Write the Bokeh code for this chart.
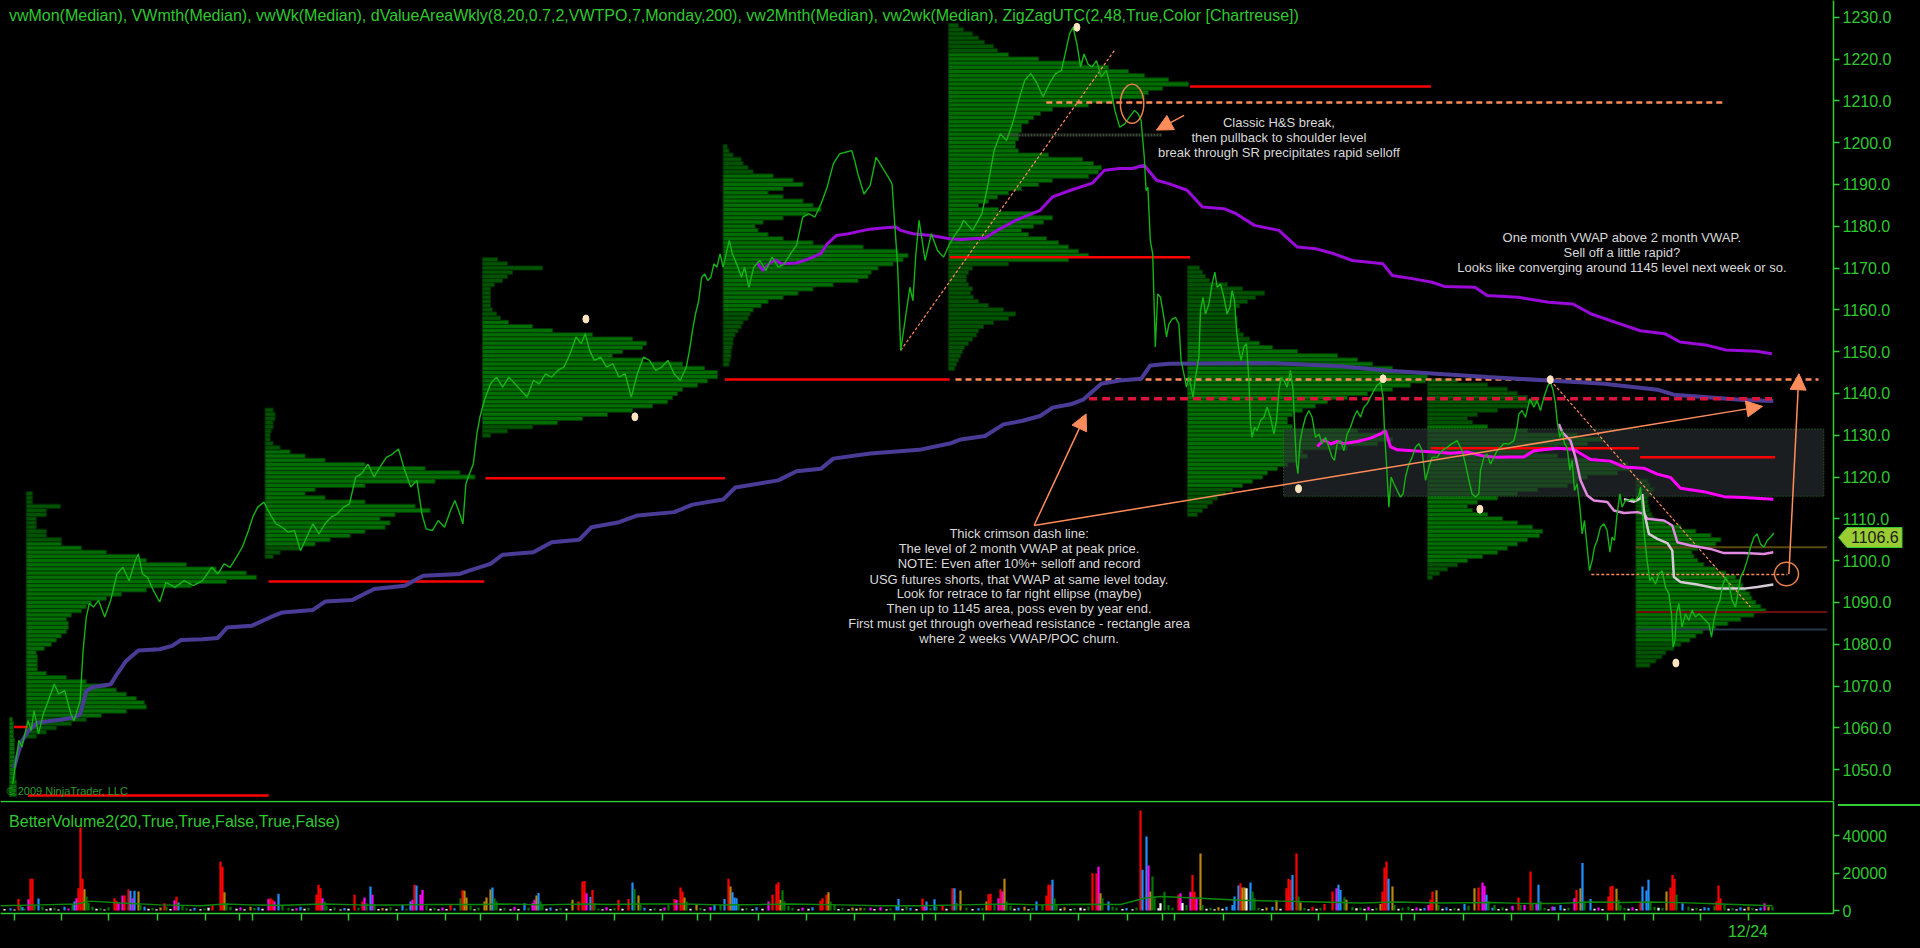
from bokeh.plotting import figure
from bokeh.models import (Range1d, FixedTicker, NumeralTickFormatter, CustomJSTickFormatter,
                          Arrow, NormalHead, Span, Div)
from bokeh.layouts import column
from bokeh.embed import file_html
from bokeh.resources import INLINE
from bokeh.core.properties import value

# ---------------- data (x = hourly bar index, y = price) ----------------
price_path = [
    (6.1,1046.6),(7.7,1052.2),(9.2,1057.0),(10.7,1055.4),(12.2,1058.6),(13.8,1061.7),(15.3,1059.4),(16.8,1064.1),
    (19.0,1058.6),(21.4,1063.3),(23.9,1066.5),(26.9,1070.5),(29.1,1068.1),(32.1,1068.9),(35.2,1063.3),(36.7,1061.7),
    (38.3,1064.1),(39.8,1066.5),(41.3,1078.5),(42.9,1086.5),(44.4,1089.7),(46.5,1088.9),(49.0,1090.5),(52.1,1086.5),
    (55.1,1090.5),(58.2,1096.8),(61.2,1098.4),(64.3,1095.2),(67.4,1100.0),(68.9,1101.6),(71.0,1096.8),(73.5,1096.0),
    (76.5,1092.8),(79.6,1090.1),(82.7,1094.8),(87.3,1093.6),(91.9,1095.2),(96.4,1094.0),(101.0,1095.2),(105.6,1098.4),
    (108.7,1096.8),(111.8,1099.2),(114.8,1098.4),(117.9,1100.8),(120.9,1103.2),(124.0,1107.2),(126.1,1110.4),
    (128.6,1112.8),(131.7,1114.0),(134.7,1111.2),(137.8,1108.8),(140.8,1108.0),(143.9,1106.8),(147.0,1107.2),
    (150.0,1102.4),(153.1,1105.6),(156.2,1108.8),(159.2,1106.4),(162.3,1108.8),(165.3,1110.4),(168.4,1111.2),
    (171.5,1112.8),(174.5,1113.6),(177.6,1120.0),(180.6,1120.8),(183.7,1123.1),(186.8,1120.0),(189.8,1122.4),
    (192.9,1124.7),(196.0,1125.5),(199.0,1126.7),(202.1,1121.6),(205.1,1117.6),(208.2,1119.2),(210.7,1111.2),
    (212.8,1107.6),(215.9,1107.2),(218.9,1109.6),(222.0,1108.0),(225.0,1112.0),(227.2,1114.4),(229.6,1111.2),
    (231.2,1108.8),(232.7,1118.4),(234.2,1120.4),(236.4,1123.1),(238.2,1130.3),(239.7,1134.3),(241.9,1138.3),
    (245.0,1142.3),(248.0,1143.9),(251.1,1141.5),(254.1,1143.9),(257.2,1142.3),(260.3,1140.7),(263.3,1139.1),
    (266.4,1143.1),(269.4,1142.3),(272.5,1144.7),(275.6,1143.9),(278.6,1145.5),(281.7,1146.3),(284.8,1149.5),
    (287.8,1153.5),(290.3,1151.9),(292.4,1154.3),(294.5,1150.3),(297.0,1147.9),(300.1,1148.7),(303.1,1146.3),
    (306.2,1147.1),(309.2,1143.9),(312.3,1144.7),(315.4,1139.1),(318.4,1144.7),(321.5,1148.7),(324.5,1147.9),
    (327.6,1145.5),(330.7,1146.3),(333.7,1147.9),(336.8,1144.7),(339.9,1143.1),(342.9,1146.3),(344.5,1150.3),
    (346.0,1155.1),(347.5,1159.0),(349.1,1162.2),(350.6,1167.8),(352.1,1168.6),(353.6,1167.0),(355.2,1167.8),
    (356.7,1171.0),(358.2,1170.2),(359.8,1173.4),(361.3,1170.2),(364.4,1176.6),(365.9,1173.4),(367.4,1171.8),
    (370.5,1167.8),(372.0,1170.2),(374.2,1165.4),(376.6,1170.2),(379.7,1171.8),(382.7,1169.4),(385.8,1172.6),
    (388.9,1170.2),(391.9,1171.0),(395.0,1173.4),(398.0,1175.4),(401.1,1182.2),(404.2,1183.0),(407.2,1182.2),
    (410.3,1185.4),(413.3,1189.3),(416.4,1194.9),(419.5,1197.3),(422.5,1197.7),(425.6,1198.1),(427.1,1195.7),
    (428.7,1192.5),(431.7,1187.7),(434.8,1189.7),(437.8,1196.5),(440.9,1194.1),(444.0,1191.7),(445.8,1190.1),
    (447.0,1181.4),(448.6,1170.2),(450.1,1150.3),(452.5,1158.2),(454.7,1165.4),(456.2,1162.2),(457.7,1173.4),
    (459.3,1181.4),(460.8,1176.6),(462.3,1171.8),(465.4,1178.2),(468.5,1174.2),(471.5,1172.6),(474.6,1175.8),
    (477.6,1178.2),(480.1,1179.8),(481.5,1181.4),(486.1,1179.0),(490.7,1183.0),(493.8,1190.1),(496.8,1198.1),
    (499.9,1202.1),(503.0,1200.5),(506.0,1204.5),(509.1,1210.1),(512.1,1214.9),(515.2,1216.5),(518.3,1214.1),
    (521.3,1210.9),(524.4,1214.1),(527.5,1216.5),(530.5,1217.3),(532.7,1222.0),(534.5,1226.0),(536.3,1227.6),
    (538.2,1223.6),(540.0,1218.1),(541.8,1221.2),(543.7,1218.8),(545.8,1218.1),(548.0,1219.6),(550.4,1215.7),
    (552.9,1217.3),(555.0,1213.3),(557.2,1207.7),(559.6,1203.7),(562.1,1204.5),(564.5,1206.1),(567.0,1207.7),
    (568.8,1206.9),(570.3,1205.3),(571.9,1196.5),(572.8,1188.5),(573.7,1189.3),(574.9,1176.6),(576.1,1173.4),
    (577.4,1151.1),(578.6,1163.8),(580.0,1163.0),(581.7,1158.2),(583.0,1153.5),(584.2,1156.6),(585.8,1157.8),
    (587.5,1158.2),(589.2,1156.6),(590.3,1147.9),(591.7,1144.7),(593.0,1141.5),(594.2,1143.9),(595.3,1141.5),
    (596.3,1139.1),(597.5,1143.9),(599.2,1148.7),(600.0,1159.8),(601.3,1163.0),(602.5,1159.0),(604.2,1161.4),
    (605.8,1166.2),(607.2,1169.0),(608.3,1165.4),(610.0,1166.2),(611.7,1163.0),(613.3,1159.0),(614.7,1160.6),
    (615.8,1164.6),(617.0,1162.2),(618.0,1155.1),(619.2,1150.3),(620.3,1147.9),(621.7,1151.1),(623.0,1151.9),
    (624.2,1143.1),(625.0,1132.7),(625.8,1129.5),(627.0,1131.9),(628.3,1131.1),(630.0,1133.5),(631.7,1134.3),
    (633.3,1136.7),(635.0,1134.3),(636.7,1130.3),(638.0,1133.5),(639.2,1140.7),(640.3,1143.9),(641.7,1143.1),
    (643.3,1141.5),(645.0,1145.5),(646.3,1140.7),(647.0,1132.7),(648.0,1123.1),(648.7,1120.8),(649.7,1128.0),
    (650.8,1131.1),(652.5,1134.3),(654.2,1135.9),(655.8,1134.3),(657.5,1129.5),(659.2,1130.3),(660.8,1128.0),
    (662.5,1129.5),(664.2,1127.1),(665.8,1124.7),(667.0,1124.0),(668.3,1128.0),(670.0,1128.7),(671.7,1126.3),
    (673.3,1130.3),(675.0,1131.9),(676.7,1134.3),(678.3,1135.9),(680.0,1134.3),(681.7,1136.7),(683.3,1137.5),
    (685.0,1139.1),(686.7,1140.7),(688.3,1141.9),(690.0,1142.7),(691.3,1139.1),(692.0,1131.1),(693.0,1123.1),
    (694.2,1112.8),(695.3,1120.0),(696.7,1118.4),(698.3,1116.8),(700.0,1115.2),(701.3,1116.0),(702.5,1120.0),
    (704.2,1123.1),(705.8,1124.7),(707.5,1127.1),(709.2,1128.0),(710.8,1126.3),(712.5,1119.2),(714.2,1122.4),
    (715.8,1124.7),(718.3,1124.7),(720.8,1126.3),(723.3,1127.1),(725.8,1128.0),(728.3,1128.7),(730.8,1126.3),
    (732.5,1123.1),(734.2,1119.2),(735.8,1116.0),(737.5,1115.2),(739.2,1116.0),(740.0,1121.6),(741.7,1124.7),
    (743.3,1125.5),(745.0,1123.1),(746.7,1124.7),(748.3,1126.3),(750.0,1127.1),(751.7,1128.0),(754.2,1127.9),
    (756.7,1128.7),(758.3,1131.9),(759.2,1135.1),(760.8,1135.9),(762.5,1134.3),(764.7,1138.7),(766.7,1136.7),
    (768.3,1138.3),(770.0,1135.9),(771.7,1139.1),(773.7,1141.9),(775.0,1142.7),(776.3,1140.7),(777.5,1137.5),
    (778.3,1133.5),(779.7,1129.5),(780.8,1131.1),(782.0,1128.0),(783.3,1127.1),(784.7,1121.6),(785.8,1124.0),
    (787.0,1116.8),(788.3,1118.4),(789.7,1112.8),(790.8,1106.4),(792.0,1109.6),(793.3,1103.2),(794.5,1097.6),
    (795.8,1100.0),(797.0,1103.2),(798.3,1104.8),(800.0,1108.0),(801.7,1108.8),(803.3,1107.2),(804.7,1102.0),
    (805.8,1105.6),(807.0,1104.8),(808.3,1111.2),(809.7,1116.0),(810.8,1112.8),(812.5,1114.4),(814.2,1114.4),
    (815.8,1114.8),(817.5,1114.4),(819.2,1115.6),(820.0,1117.6),(820.8,1112.8),(822.0,1105.6),(823.3,1100.0),
    (824.7,1095.2),(825.8,1096.0),(827.5,1094.4),(829.2,1096.8),(830.8,1097.6),(832.5,1093.6),(834.2,1092.1),
    (835.5,1087.3),(836.3,1079.3),(837.2,1080.9),(838.0,1087.3),(839.2,1089.7),(840.8,1084.1),(842.5,1087.3),
    (844.2,1085.7),(845.8,1088.1),(847.5,1086.5),(849.2,1087.3),(850.8,1086.5),(852.5,1085.7),(854.2,1084.9),
    (855.5,1081.7),(856.7,1085.7),(858.3,1088.9),(859.7,1090.5),(860.8,1093.6),(862.5,1096.0),(864.2,1094.4),
    (865.8,1090.5),(867.5,1088.9),(868.7,1092.1),(870.0,1096.0),(871.7,1097.6),(873.3,1100.0),(875.0,1103.2),
    (876.7,1105.6),(878.3,1106.4),(880.0,1104.0),(881.7,1103.2),(883.3,1104.8),(885.0,1105.6),(886.7,1106.6),
]

vw_month = [(378.2,1171.4),(381.2,1169.4),(384.3,1171.0),(387.3,1172.0),(390.4,1171.0),(398.0,1171.2),(404.2,1172.2),
    (410.3,1173.5),(413.4,1175.8),(418.0,1177.8),(424.0,1178.2),(428.7,1178.7),(434.8,1179.3),(440.9,1179.6),
    (447.7,1179.8),(450.1,1179.0),(456.2,1178.2),(465.4,1177.8),(474.6,1177.0),(480.1,1176.8),(492.3,1177.2),
    (498.4,1179.0),(507.6,1181.4),(519.8,1183.8),(526.0,1187.0),(535.1,1188.6),(545.9,1190.3),(552.0,1193.4),
    (559.6,1193.8),(565.8,1193.8),(571.9,1194.6),(578.0,1191.0),(584.1,1190.2),(593.3,1188.6),(601.0,1184.6),
    (611.7,1184.2),(617.8,1183.0),(627.0,1180.2),(639.2,1179.0),(648.4,1175.0),(657.6,1174.6),(666.8,1173.4),
    (675.9,1171.8),(691.3,1171.0),(695.9,1168.2),(706.6,1167.4),(715.8,1166.6),(721.9,1165.6),(737.2,1165.4),
    (743.3,1163.4),(758.7,1163.0),(774.0,1161.8),(786.2,1161.4),(795.4,1159.0),(807.6,1157.0),(819.9,1155.0),
    (832.1,1154.3),(839.8,1152.3),(853.5,1151.5),(862.7,1150.4),(878.0,1150.1),(885.7,1149.5)]

vw_2month = [(6.8,1050.4),(8.6,1053.6),(10.7,1056.8),(13.8,1059.2),(18.4,1061.2),(24.5,1061.6),(30.6,1062.0),
    (36.8,1062.5),(39.8,1063.2),(42.9,1068.8),(46.0,1069.7),(55.1,1070.4),(58.2,1072.8),(62.8,1076.0),(68.9,1078.5),
    (79.6,1078.8),(85.8,1079.6),(90.3,1081.0),(101.0,1081.2),(108.7,1081.5),(113.3,1084.0),(125.5,1084.4),
    (134.7,1086.4),(140.9,1087.6),(156.2,1088.2),(162.3,1090.2),(176.0,1090.6),(186.8,1093.2),(202.1,1094.0),
    (211.3,1096.4),(229.7,1096.8),(234.3,1097.6),(245.0,1099.2),(251.0,1101.4),(266.4,1102.0),(275.6,1104.4),
    (289.4,1105.0),(295.5,1108.0),(309.3,1109.2),(318.5,1110.8),(336.8,1111.6),(346.0,1113.4),(361.3,1114.6),
    (367.4,1117.5),(388.9,1119.2),(398.0,1121.4),(410.3,1122.0),(416.4,1124.4),(434.8,1125.6),(459.3,1126.5),
    (474.6,1128.0),(480.1,1129.0),(492.3,1129.8),(501.5,1132.6),(510.6,1133.4),(519.8,1134.6),(526.0,1136.6),
    (535.1,1137.4),(541.3,1138.5),(550.4,1142.3),(559.6,1143.1),(570.3,1143.5),(574.9,1146.7),(584.1,1147.1),
    (633.1,1147.3),(669.9,1146.5),(694.4,1145.4),(743.3,1143.9),(774.0,1143.1),(791.7,1142.6),(801.7,1142.3),
    (828.4,1140.9),(836.7,1139.7),(858.4,1138.9),(871.7,1138.4),(886.4,1138.2)]

vw_2week = [(658.4,1127.3),(661.7,1128.9),(665.0,1127.9),(668.4,1128.5),(671.7,1128.0),(678.4,1128.5),(685.0,1129.3),
    (690.0,1130.3),(692.5,1131.1),(695.0,1127.2),(698.4,1126.5),(708.4,1126.2),(716.7,1126.0),(725.0,1125.7),
    (733.4,1126.0),(741.7,1125.0),(748.0,1124.7),(755.0,1124.8),(761.7,1124.8),(766.7,1126.3),(778.4,1126.9),
    (786.7,1126.6),(795.0,1124.2),(805.0,1123.8),(811.7,1122.4),(821.7,1122.1),(828.4,1120.7),(835.0,1119.9),
    (840.0,1117.3),(851.7,1116.5),(861.7,1115.3),(871.7,1115.1),(886.4,1114.7)]

vw_week = [(779.2,1132.7),(780.9,1130.7),(785.0,1128.7),(787.5,1124.7),(790.0,1119.2),(793.4,1115.6),(796.7,1114.4),
    (803.4,1114.0),(806.7,1112.0),(811.7,1111.4),(818.4,1111.6),(821.7,1111.2),(823.4,1110.0),(831.7,1109.6),
    (835.9,1108.4),(838.4,1104.4),(845.0,1103.6),(855.0,1102.8),(861.7,1101.8),(871.7,1101.8),(881.7,1101.6),
    (886.4,1102.0)]

vw_mon = [(811.7,1114.7),(816.7,1114.1),(820.0,1114.9),(820.9,1115.9),(821.7,1111.9),(824.2,1106.4),(828.4,1105.2),
    (833.4,1104.2),(835.9,1102.4),(836.7,1096.1),(840.0,1094.9),(848.4,1094.3),(858.4,1093.3),(871.7,1093.3),
    (878.4,1093.7),(886.4,1094.3)]

zigzag_pts = [(292.7,1157.8),(317.2,1134.4),(538.2,1227.6),(649.0,1117.2),(691.3,1143.5),(739.7,1112.3),
    (774.9,1143.3),(837.7,1075.5)]

# weekly volume profiles: start bar, top price row, value area, row lengths (px-scale volume) top -> down
prof_start = [4.5, 12.9, 132.3, 241.0, 361.3, 474.0, 593.5, 713.5, 817.7]
prof_top = [1062, 1116, 1136, 1172, 1199, 1228, 1170, 1143, 1119]
prof_va = [(1044,1062),(1063,1104),(1104,1126),(1133,1157),(1160,1192),(1172,1221),(1118,1152),(1100,1132),(1081,1109)]
prof_rows = [
    [3,4,4,4,4,5,5,5,5,5,6,6,6,6,6,7,7,7,7],
    [6,6,6,34,20,20,10,10,10,20,20,35,35,55,80,110,120,160,190,220,230,200,165,120,95,80,65,60,55,45,
     40,42,42,40,35,30,25,18,10,11,11,11,11,20,40,60,80,90,100,110,118,120,100,75,60,45,30,20,10],
    [8,10,10,8,8,6,5,5,8,15,25,40,60,100,160,195,210,170,100,50,40,60,100,150,165,130,115,125,120,100,
     85,65,50,35,15,8],
    [15,25,60,30,25,20,12,8,8,8,8,8,10,14,18,26,50,70,110,150,164,160,140,130,160,200,222,235,235,225,
     215,200,195,190,185,170,150,125,100,75,50,25,8],
    [4,6,10,18,20,25,30,50,70,80,60,45,60,80,90,98,85,60,40,32,35,45,60,90,140,175,185,180,170,155,
     148,145,135,110,90,75,60,45,38,30,27,25,20,18,15,12,10,10,9,8,8,7,6],
    [10,15,24,30,36,45,49,60,90,134,160,180,196,220,240,214,200,196,165,140,104,92,85,80,73,73,70,70,67,67,
     70,100,134,145,153,150,140,104,90,73,60,49,40,30,50,85,104,95,85,73,80,98,110,120,130,140,120,60,24,20,
     18,18,20,24,22,25,30,40,55,67,60,45,35,30,28,24,20,16,14,12,10,8,6],
    [12,15,18,22,40,55,77,68,60,52,48,48,50,50,50,52,56,62,72,85,110,150,170,185,205,220,240,238,223,205,
     180,160,140,128,115,105,100,100,105,170,200,205,190,160,115,120,110,100,90,80,75,65,55,45,38,30,25,20,15,10],
    [30,60,80,90,100,110,100,70,50,40,45,60,100,150,175,160,130,110,130,170,200,205,190,160,150,140,110,90,70,50,
     40,45,60,75,90,105,115,112,100,90,80,70,55,40,30,20,12,5],
    [12,14,18,14,12,12,13,14,16,18,30,45,60,75,85,80,62,56,58,62,68,80,90,100,105,107,110,114,116,120,
     125,130,118,105,92,80,67,60,54,45,38,30,26,20,14],
]
PROFILE_SCALE = 0.5  # profile volume units -> bars

# prior-week POC levels (start bar, end bar, price)
poc_lines = [(6.8,13.8,1060.2),(13.8,134.1,1043.8),(134.1,241.9,1095.0),(242.5,362.2,1119.7),(362.2,474.6,1143.3),
    (474.6,594.8,1172.6),(594.8,715.2,1213.4),(715.2,819.3,1126.9),(819.8,887.3,1124.7)]

# volume (bar, volume, colour code)
vol_bars = [
    (9,6200,'r'),(10,2600,'g'),(11,1800,'b'),(14,6000,'m'),(15,16900,'r'),(16,16900,'r'),(17,3000,'g'),(19,6400,'b'),
    (21,2000,'g'),(25,1200,'w'),(32,2000,'b'),(36,3000,'g'),(37,4800,'b'),(38,6600,'m'),(39,11900,'r'),(40,44300,'r'),
    (41,16900,'r'),(42,11400,'o'),(43,7500,'g'),(44,4000,'g'),(46,2000,'g'),(57,6600,'r'),(58,5200,'r'),(59,3900,'m'),
    (61,8000,'m'),(62,8000,'r'),(64,11200,'r'),(65,10500,'b'),(66,6600,'m'),(67,10500,'b'),(69,10100,'o'),(70,3000,'g'),
    (72,2000,'b'),(82,3900,'r'),(83,2000,'g'),(87,5500,'m'),(88,7300,'r'),(89,4300,'b'),(91,2500,'g'),(104,1500,'w'),
    (106,2700,'r'),(110,26100,'r'),(111,23300,'r'),(112,9800,'o'),(113,3900,'g'),(115,2000,'g'),(125,2000,'o'),
    (134,6200,'m'),(135,6600,'r'),(136,5700,'r'),(137,4800,'m'),(139,8900,'b'),(141,3000,'g'),(150,2000,'b'),
    (158,8400,'r'),(159,13700,'r'),(160,11900,'r'),(161,6600,'m'),(162,4800,'g'),(163,2500,'g'),(177,8400,'r'),
    (181,4800,'r'),(182,6900,'m'),(183,3900,'g'),(185,12800,'b'),(186,8400,'m'),(187,3500,'g'),(201,3000,'b'),
    (205,4800,'b'),(206,5700,'m'),(207,13700,'r'),(208,13300,'b'),(210,8400,'m'),(211,11000,'m'),(213,2500,'g'),
    (225,3000,'r'),(230,6600,'g'),(231,10800,'r'),(232,10500,'o'),(233,6900,'o'),(235,2500,'g'),(242,4800,'o'),
    (243,6900,'o'),(245,11200,'o'),(246,12300,'b'),(247,6600,'g'),(248,4800,'g'),(262,3900,'b'),(266,3900,'m'),
    (267,5700,'m'),(268,8000,'o'),(269,9400,'b'),(270,4800,'g'),(271,3000,'g'),(286,5700,'o'),(289,4800,'r'),
    (291,15500,'r'),(292,15800,'r'),(293,9200,'m'),(295,7300,'b'),(296,11000,'r'),(297,3900,'g'),(309,5700,'r'),
    (314,6200,'r'),(316,14900,'b'),(317,11500,'g'),(319,8000,'o'),(320,3000,'g'),(334,3000,'g'),(337,6200,'r'),
    (338,5700,'m'),(340,12300,'r'),(341,10100,'r'),(342,6900,'o'),(343,4800,'g'),(348,3500,'o'),(357,3000,'b'),
    (360,3000,'g'),(362,6200,'b'),(364,16900,'r'),(365,12800,'o'),(366,9800,'b'),(367,6900,'b'),(368,6600,'b'),
    (369,3000,'g'),(384,4800,'m'),(386,8400,'r'),(388,14000,'r'),(389,15100,'r'),(390,5700,'o'),(391,10800,'g'),
    (392,4800,'g'),(394,2500,'g'),(410,5200,'r'),(411,6600,'r'),(413,8400,'r'),(414,9800,'o'),(415,4800,'g'),
    (417,3000,'g'),(430,1500,'o'),(435,1500,'m'),(448,3000,'b'),(449,6200,'b'),(453,2000,'g'),(461,6400,'r'),
    (462,3000,'m'),(463,4800,'b'),(467,6000,'b'),(468,2000,'g'),(471,3000,'r'),(476,11900,'r'),(477,11900,'b'),
    (478,4000,'g'),(480,10700,'o'),(489,1200,'b'),(493,4800,'o'),(494,8700,'r'),(495,9000,'r'),(497,3000,'g'),
    (499,6600,'m'),(500,11400,'r'),(501,10100,'m'),(502,16900,'o'),(503,4800,'g'),(505,2500,'g'),(512,2000,'o'),
    (518,4800,'b'),(521,3000,'g'),(523,8000,'r'),(524,13700,'r'),(525,13700,'r'),(526,16400,'b'),(527,6600,'g'),
    (528,3000,'g'),(540,1500,'w'),(544,2000,'g'),(546,19900,'r'),(548,19900,'r'),(549,23300,'m'),(550,9200,'o'),
    (551,6600,'g'),(554,4800,'b'),(556,2000,'g'),(570,53300,'r'),(571,21700,'b'),(573,39500,'b'),(574,24000,'m'),
    (575,10100,'o'),(576,18100,'g'),(577,6600,'g'),(580,3900,'w'),(582,10000,'g'),(584,3000,'g'),(589,8400,'r'),
    (590,9200,'m'),(591,4000,'w'),(593,3000,'g'),(595,10000,'m'),(596,19000,'r'),(597,10000,'r'),(598,6600,'m'),
    (600,30400,'o'),(601,3000,'g'),(613,2000,'b'),(616,3000,'b'),(617,7500,'b'),(619,13300,'b'),(620,14600,'r'),
    (621,12300,'o'),(622,12300,'o'),(623,11900,'w'),(625,14900,'b'),(626,10100,'g'),(627,6600,'g'),(636,2000,'b'),
    (638,5500,'o'),(643,11900,'r'),(644,16900,'r'),(645,16400,'r'),(646,19000,'b'),(648,30400,'r'),(649,7500,'g'),
    (650,4300,'o'),(662,3500,'r'),(666,10100,'r'),(668,11900,'m'),(669,13700,'b'),(670,11000,'b'),(672,6900,'g'),
    (673,5700,'o'),(676,2000,'g'),(690,3500,'o'),(691,10100,'r'),(692,22900,'r'),(693,26100,'r'),(694,16900,'b'),
    (696,12800,'o'),(697,3000,'g'),(704,2000,'g'),(714,3000,'m'),(715,5900,'r'),(716,10100,'r'),(718,10800,'o'),
    (719,3000,'g'),(732,3500,'b'),(734,2500,'g'),(737,11900,'o'),(739,12300,'r'),(741,14900,'m'),(742,13100,'m'),
    (743,8400,'b'),(744,5000,'g'),(747,3000,'g'),(756,2500,'m'),(759,6900,'r'),(760,3000,'g'),(762,3000,'m'),
    (765,20800,'r'),(766,3900,'g'),(768,3900,'m'),(769,13700,'b'),(770,5000,'g'),(777,2000,'b'),(780,3000,'b'),
    (787,6600,'m'),(788,11000,'r'),(790,11900,'o'),(791,25400,'b'),(792,5000,'g'),(795,6200,'b'),(804,7500,'r'),
    (805,12800,'r'),(806,13200,'r'),(808,11600,'o'),(809,5700,'g'),(810,3000,'g'),(820,4800,'r'),(821,12800,'b'),
    (823,10700,'b'),(824,16400,'b'),(825,4000,'g'),(827,2000,'g'),(833,10100,'o'),(835,12300,'r'),(836,19000,'r'),
    (837,16900,'r'),(838,8400,'g'),(841,3900,'b'),(844,2000,'g'),(854,1500,'b'),(857,2500,'g'),(858,4800,'r'),
    (859,13300,'r'),(860,6600,'r'),(862,3000,'g'),(874,2000,'o'),(882,3900,'m'),(884,2000,'o'),(886,2000,'g'),
]
vol_small = [
    (2,800,'w'),(5,1200,'b'),(7,600,'w'),(12,900,'g'),(23,700,'w'),(27,1500,'g'),(29,500,'w'),(34,1100,'m'),
    (48,900,'w'),(50,1400,'g'),(52,600,'w'),(54,1800,'g'),(74,900,'w'),(76,1300,'g'),(78,700,'w'),(80,1600,'o'),
    (85,800,'w'),(93,1200,'g'),(95,600,'w'),(97,1500,'b'),(100,700,'w'),(102,1100,'g'),(118,900,'w'),(120,1600,'m'),
    (122,700,'w'),(127,1300,'g'),(129,1800,'b'),(131,900,'w'),(144,1400,'g'),(146,700,'w'),(148,1200,'m'),
    (152,900,'w'),(154,1500,'g'),(165,800,'w'),(167,1600,'g'),(170,600,'w'),(172,1300,'b'),(174,900,'w'),
    (179,1500,'g'),(189,800,'w'),(191,1400,'o'),(193,1000,'w'),(195,1800,'g'),(198,700,'w'),(203,1100,'g'),
    (215,900,'w'),(217,1300,'g'),(219,700,'w'),(221,1600,'m'),(223,800,'w'),(227,1200,'b'),(237,700,'w'),
    (239,1500,'g'),(250,900,'w'),(252,1300,'g'),(255,700,'w'),(257,1900,'m'),(259,800,'w'),(264,1500,'g'),
    (273,900,'w'),(275,1600,'b'),(278,700,'w'),(280,1300,'g'),(283,900,'w'),(299,1100,'g'),(301,700,'w'),
    (303,1800,'m'),(305,800,'w'),(307,1300,'g'),(311,900,'w'),(322,1500,'b'),(325,800,'w'),(327,1200,'g'),
    (330,700,'w'),(332,1600,'m'),(345,900,'w'),(350,1400,'g'),(352,700,'w'),(355,1900,'m'),(371,900,'w'),
    (373,1400,'g'),(376,700,'w'),(378,1700,'b'),(381,900,'w'),(396,1300,'g'),(399,700,'w'),(401,1500,'m'),
    (404,900,'w'),(406,1800,'b'),(419,800,'w'),(421,1400,'g'),(424,700,'w'),(426,1600,'o'),(428,900,'w'),
    (432,1300,'g'),(437,800,'w'),(440,1800,'m'),(443,700,'w'),(445,1200,'g'),(451,900,'w'),(455,1400,'b'),
    (458,800,'w'),(465,1300,'g'),(473,900,'w'),(483,1500,'g'),(486,800,'w'),(491,1300,'g'),(507,900,'w'),
    (509,1500,'b'),(514,700,'w'),(516,1300,'g'),(530,900,'w'),(532,1800,'o'),(535,800,'w'),(537,1400,'g'),
    (542,900,'w'),(558,1500,'g'),(561,800,'w'),(563,1300,'b'),(566,700,'w'),(568,1600,'g'),(579,1200,'w'),
    (586,1500,'g'),(603,900,'w'),(605,1400,'g'),(607,700,'w'),(609,1800,'o'),(611,900,'w'),(629,1400,'g'),
    (631,800,'w'),(633,1600,'o'),(640,900,'w'),(652,1300,'g'),(654,700,'w'),(656,2000,'r'),(658,900,'w'),
    (660,1400,'g'),(678,1200,'w'),(680,1600,'g'),(682,900,'w'),(684,1900,'m'),(686,800,'w'),(688,1300,'g'),
    (699,900,'w'),(701,1500,'g'),(706,800,'w'),(708,1600,'m'),(710,900,'w'),(712,1300,'b'),(721,900,'w'),
    (723,1800,'b'),(725,800,'w'),(727,1400,'g'),(729,900,'w'),(746,1500,'b'),(749,800,'w'),(751,1800,'g'),
    (753,900,'w'),(772,1300,'g'),(774,700,'w'),(776,2200,'m'),(782,900,'w'),(784,1500,'g'),(797,900,'w'),
    (799,1600,'m'),(801,800,'w'),(812,1300,'g'),(814,900,'w'),(816,1800,'m'),(818,800,'w'),(829,1500,'w'),
    (831,1300,'g'),(846,900,'w'),(848,1400,'g'),(850,700,'w'),(852,1800,'b'),(864,900,'w'),(866,1300,'g'),
    (868,700,'w'),(870,1800,'b'),(872,900,'w'),(876,1300,'g'),(878,800,'w'),(880,1600,'b'),
]
vol_ma = [(0,2500),(20,3000),(38,3500),(45,5000),(60,4000),(80,3000),(100,2500),(112,3500),(125,3000),(140,2800),
    (162,3500),(180,3000),(200,3000),(215,3200),(240,3200),(250,3500),(270,3000),(292,3500),(305,3200),(320,3500),
    (342,3500),(360,3000),(380,3200),(395,3500),(420,3000),(440,2500),(460,2500),(480,3000),(503,3500),(520,3000),
    (540,3300),(560,3200),(572,6500),(580,7500),(600,6500),(620,5500),(640,5000),(660,4500),(680,4000),(698,4500),
    (720,4000),(745,4300),(760,3800),(780,3800),(795,4500),(812,4300),(825,4500),(840,4200),(860,3500),(886,2500)]

day_ticks = [6.75,30.3,54.2,78.4,102.25,119.7,126.15,150.35,174.2,198.4,222.3,239.75,258.7,282.9,306.8,331.0,348.5,
    354.9,378.75,402.95,426.8,447.0,460.8,467.5,491.35,515.2,539.1,563.3,580.75,587.15,611.35,635.25,659.1,683.0,
    700.45,707.2,731.35,755.25,779.15,803.3,811.9,826.3,849.85,873.75]
price_ticks = list(range(1050, 1231, 10))
vol_ticks = [0, 20000, 40000]
last_price = 1106.6

# ---------------- styling ----------------
FONT = "Liberation Sans"
AX = "#32cd32"
LBL = "#30c830"
ORANGE = "#ff8c5a"
COLMAP = {'r': "#ff0000", 'b': "#1e90ff", 'm': "#ff00ff", 'o': "#b8860b", 'g': "#007800", 'w': "#ffffff"}
Y0, Y1 = 1042.61, 1234.0
FRAME_H = 800
FRAME_W = 1833


def style_axis(ax):
    ax.axis_line_color = AX
    ax.axis_line_width = 1.5
    ax.major_tick_line_color = AX
    ax.major_tick_line_width = 1.5
    ax.major_tick_out = 6
    ax.major_tick_in = 0
    ax.minor_tick_line_color = None
    ax.major_label_text_color = LBL
    ax.major_label_text_font = FONT
    ax.major_label_text_font_size = "16px"
    ax.major_label_standoff = 3


p = figure(frame_width=FRAME_W, frame_height=FRAME_H, x_range=Range1d(0.0, 916.5), y_range=Range1d(Y0, Y1),
           output_backend="svg", toolbar_location=None, x_axis_location=None, y_axis_location="right",
           min_border_left=0, min_border_right=85, min_border_top=0, min_border_bottom=0,
           background_fill_color="black", border_fill_color="black", outline_line_color=None, title=None)
p.grid.visible = False
style_axis(p.yaxis[0])
p.yaxis[0].ticker = FixedTicker(ticks=price_ticks)
p.yaxis[0].formatter = NumeralTickFormatter(format="0.0")

# volume profiles
for k in range(len(prof_start)):
    lo, hi = prof_va[k]
    for side in (True, False):
        L, R, B, T = [], [], [], []
        for i, ln in enumerate(prof_rows[k]):
            pr = prof_top[k] - i
            if (lo <= pr <= hi) == side:
                L.append(prof_start[k]); R.append(prof_start[k] + ln * PROFILE_SCALE)
                B.append(pr - 0.5); T.append(pr + 0.5)
        if L:
            p.quad(left=L, right=R, bottom=B, top=T,
                   fill_color="#006e00" if side else "#005400",
                   line_color="#003c00" if side else "#003000", line_width=1)

# churn rectangle
p.quad(left=[641.5], right=[911.7], bottom=[1115.4], top=[1131.5], fill_color="#2c3034", fill_alpha=0.62,
       line_color="#2e7a2e", line_dash="1 2", line_width=1)

# prior week POC lines
p.segment(x0=[a for a, b, c in poc_lines], x1=[b for a, b, c in poc_lines],
          y0=[c for a, b, c in poc_lines], y1=[c for a, b, c in poc_lines], line_color="#ff0000", line_width=2.5)

# right-hand thin reference lines
p.segment(x0=[817.7] * 3, x1=[913.3] * 3, y0=[1103.2, 1087.7, 1083.5], y1=[1103.2, 1087.7, 1083.5],
          line_color=["#5a4a10", "#6e0c0c", "#26384a"], line_width=2)

# dashed levels
p.line([522.9, 862.8], [1209.6, 1209.6], line_color=ORANGE, line_width=2.5, line_dash="6 4")
p.line([477.5, 909.0], [1143.3, 1143.3], line_color=ORANGE, line_width=2.5, line_dash="6 4")
p.line([501.5, 581.0], [1201.8, 1201.8], line_color="#3c4a3c", line_width=3, line_dash="2 1")
p.line([795.4, 893.4], [1096.7, 1096.7], line_color=ORANGE, line_width=1.5, line_dash="3 2")

# trend lines (dotted)
p.line([450.1, 557.2], [1150.3, 1222.2], line_color=ORANGE, line_width=1.2, line_dash="3 2")
p.line([775.0, 875.0], [1143.1, 1088.9], line_color=ORANGE, line_width=1.2, line_dash="3 2")

# VWAP lines
p.line([a for a, b in vw_2month], [b for a, b in vw_2month], line_color="#4a3c96", line_width=4)
p.line([a for a, b in vw_month], [b for a, b in vw_month], line_color="#9a0ad8", line_width=3)
p.line([a for a, b in vw_2week], [b for a, b in vw_2week], line_color="#ff00ff", line_width=3)
p.line([a for a, b in vw_week], [b for a, b in vw_week], line_color="#e28ae2", line_width=2.5)
p.line([a for a, b in vw_mon], [b for a, b in vw_mon], line_color="#d6cad6", line_width=2.5)

# crimson 2-month VWAP peak level
p.line([544.3, 885.7], [1138.7, 1138.7], line_color="#dc143c", line_width=3.5, line_dash="8 5")

# price
p.line([a for a, b in price_path], [b for a, b in price_path], line_color="#14b414", line_width=1.4)

# zigzag points
p.ellipse(x=[a for a, b in zigzag_pts], y=[b for a, b in zigzag_pts], width=3.0, height=1.9,
          fill_color="#ffe4c0", line_color="#ffe4c0")

# ellipses
p.ellipse(x=[565.8, 893.0], y=[1209.3, 1096.8], width=[11.7, 12.0], height=[9.4, 5.6],
          fill_color=None, line_color="#e8804a", line_width=1.5)

# arrows
for xs, ys, xe, ye in [(516.8, 1108.4, 542.8, 1135.1), (516.8, 1108.4, 881.0, 1136.9),
                       (591.8, 1206.5, 578.0, 1203.0), (894.2, 1096.8, 899.2, 1144.7)]:
    p.add_layout(Arrow(x_start=xs, y_start=ys, x_end=xe, y_end=ye, line_color=ORANGE, line_width=1.5,
                       end=NormalHead(size=16, fill_color=ORANGE, line_color=ORANGE)))

# texts
p.text(x=[4.2], y=[1230.4],
       text=["vwMon(Median), VWmth(Median), vwWk(Median), dValueAreaWkly(8,20,0.7,2,VWTPO,7,Monday,200), "
             "vw2Mnth(Median), vw2wk(Median), ZigZagUTC(2,48,True,Color [Chartreuse])"],
       text_font=value(FONT), text_font_size="16px", text_color=LBL, text_baseline="middle")
p.text(x=[3.0], y=[1044.8], text=["\u00a9 2009 NinjaTrader, LLC"], text_font=value(FONT),
       text_font_size="11px", text_color="#2a9a2a", text_baseline="middle")

note_color = "#d8d8d8"
hs = ["Classic H&S break,", "then pullback to shoulder level", "break through SR precipitates rapid selloff"]
p.text(x=[639.2] * 3, y=[1204.9, 1201.3, 1197.7], text=hs, text_font=value(FONT), text_font_size="13px",
       text_color=note_color, text_align="center", text_baseline="middle")
om = ["One month VWAP above 2 month VWAP.", "Sell off a little rapid?",
      "Looks like converging around 1145 level next week or so."]
p.text(x=[810.7] * 3, y=[1177.4, 1173.8, 1170.2], text=om, text_font=value(FONT), text_font_size="13px",
       text_color=note_color, text_align="center", text_baseline="middle")
cr = ["Thick crimson dash line:", "The level of 2 month VWAP at peak price.",
      "NOTE: Even after 10%+ selloff and record", "USG futures shorts, that VWAP at same level today.",
      "Look for retrace to far right ellipse (maybe)", "Then up to 1145 area, poss even by year end.",
      "First must get through overhead resistance - rectangle area", "where 2 weeks VWAP/POC churn."]
p.text(x=[509.3] * 8, y=[1106.4, 1102.8, 1099.2, 1095.6, 1092.1, 1088.5, 1085.0, 1081.4], text=cr,
       text_font=value(FONT), text_font_size="13px", text_color=note_color, text_align="center",
       text_baseline="middle")

# ---------------- volume panel ----------------
v = figure(frame_width=FRAME_W, frame_height=113, x_range=p.x_range, y_range=Range1d(-1600, 58667),
           output_backend="svg", toolbar_location=None, y_axis_location="right", x_axis_location="below",
           min_border_left=0, min_border_right=85, min_border_top=0, min_border_bottom=0,
           background_fill_color="black", border_fill_color="black", outline_line_color=None, title=None)
v.grid.visible = False
style_axis(v.yaxis[0])
v.yaxis[0].ticker = FixedTicker(ticks=vol_ticks)
v.yaxis[0].formatter = NumeralTickFormatter(format="0")
style_axis(v.xaxis[0])
v.xaxis[0].major_tick_out = 7
v.xaxis[0].major_label_standoff = 2
v.xaxis[0].ticker = FixedTicker(ticks=day_ticks)
v.xaxis[0].formatter = CustomJSTickFormatter(code="return Math.abs(tick - 873.75) < 0.01 ? '12/24' : '';")

allv = vol_small + vol_bars
v.vbar(x=[a for a, b, c in allv], top=[b for a, b, c in allv], bottom=0, width=1.1,
       fill_color=[COLMAP[c] for a, b, c in allv], line_color=None)
v.line([a for a, b in vol_ma], [b for a, b in vol_ma], line_color="#0a8a0a", line_width=1.5)
v.add_layout(Span(location=58200, dimension="width", line_color=AX, line_width=1.5))
v.text(x=[4.3], y=[47600], text=["BetterVolume2(20,True,True,False,True,False)"], text_font=value(FONT),
       text_font_size="16px", text_color=LBL, text_baseline="middle")

# last-price marker on the price axis (placed from the price scale of the main panel)
marker_top = (Y1 - last_price) / (Y1 - Y0) * FRAME_H - 10.5
marker = Div(text=(
    '<div style="position:relative;width:66px;height:21px;">'
    '<svg width="66" height="21" style="position:absolute;left:0;top:0">'
    '<polygon points="0.5,10.5 9,0.5 64,0.5 64,20.5 9,20.5" fill="#9acd32" stroke="#32cd32" stroke-width="1"/>'
    '</svg><span style="position:absolute;left:13px;top:0px;font-family:\'Liberation Sans\';font-size:16px;'
    'line-height:21px;color:#1a1a1a;">%.1f</span></div>' % last_price),
    styles={"position": "absolute", "left": "%dpx" % FRAME_W, "top": "%.1fpx" % marker_top, "z-index": "10"})

# panel separator continuing past the price axis
sep = Div(text="", styles={"position": "absolute", "left": "%dpx" % FRAME_W, "top": "%dpx" % (FRAME_H - 1),
                           "width": "87px", "height": "1.5px", "background": AX, "z-index": "9"})

layout = column(p, v, marker, sep)
html = file_html(layout, INLINE, title="chart")
html = html.replace("<head>", "<head><style>body{background:#000;}</style>", 1)
open("out.html", "w").write(html)
